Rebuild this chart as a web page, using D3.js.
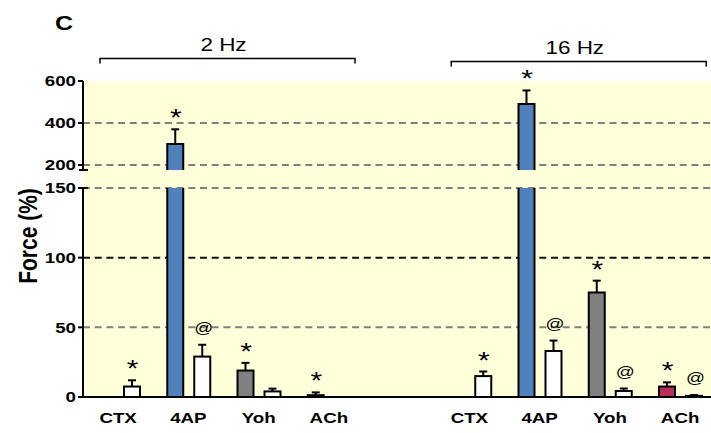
<!DOCTYPE html>
<html><head><meta charset="utf-8">
<script src="https://cdn.jsdelivr.net/npm/d3@7"></script>
<style>body{margin:0;background:#fff}svg{display:block;font-family:Arial,"Liberation Sans",sans-serif}</style>
</head><body><svg id="c" width="711" height="433"></svg>
<script>
const categories = ["CTX", "4AP", "Yoh", "ACh"];
const frequencies = ["2 Hz", "16 Hz"];
const treated2 = [0, 300, 19, 1.3];
const treatedErr2 = [0, 70, 5.5, 2];
const washout2 = [7.5, 29, 4, 0];
const washoutErr2 = [4.5, 8.5, 2, 0];
const treated16 = [0, 490, 75, 7.5];
const treatedErr16 = [0, 65, 8.5, 3];
const washout16 = [15, 33, 4.3, 0.8];
const washoutErr16 = [3.3, 7.5, 1.8, 0.6];
const treatedMark2 = ["", "*", "*", "*"];
const washoutMark2 = ["*", "@", "", ""];
const treatedMark16 = ["", "*", "*", "*"];
const washoutMark16 = ["*", "@", "@", "@"];
const lowerTicks = [0, 50, 100, 150];
const upperTicks = [200, 400, 600];
const categoryColors = ["#FFFFFF", "#4F81BD", "#808080", "#B8305A"];

const SX = 1.25;
const svg = d3.select("#c");
const x0 = 83, xEnd = 711;
const slots = [];
frequencies.forEach((f, i) => {
  if (i > 0) slots.push("gap" + i);
  categories.forEach(c => slots.push(f + "|" + c));
});
const x = d3.scaleBand().domain(slots).range([x0, x0 + slots.length * 70.25]).padding(0);
const inner = d3.scaleBand().domain(["treated", "washout"]).range([14, 57]).paddingInner(11 / 27).paddingOuter(0);
const yLow = d3.scaleLinear().domain([0, 150]).range([397, 188]);
const yUp = d3.scaleLinear().domain([200, 600]).range([165, 81]);
const upBottom = 170;

function txt(g, x, y, s, opts) {
  const t = g.append("text").attr("transform", `translate(${x},${y}) scale(${SX},1)` + (opts.rot ? " rotate(-90)" : ""))
    .text(s).attr("font-size", opts.size).attr("font-weight", opts.bold ? "bold" : "normal")
    .attr("text-anchor", opts.anchor || "middle").attr("fill", "#000");
  if (opts.dy) t.attr("dy", opts.dy);
  return t;
}

// background
svg.append("rect").attr("x", x0).attr("y", yUp(600)).attr("width", xEnd - x0).attr("height", yLow(0) - yUp(600)).attr("fill", "#FFFFDA");

// gridlines
const grid = svg.append("g");
upperTicks.filter(v => v < 600).forEach(v => {
  grid.append("line").attr("x1", x0).attr("x2", xEnd).attr("y1", yUp(v)).attr("y2", yUp(v))
    .attr("stroke", "#808080").attr("stroke-width", 2).attr("stroke-dasharray", "7,4.7");
});
lowerTicks.filter(v => v > 0).forEach(v => {
  grid.append("line").attr("x1", x0).attr("x2", xEnd).attr("y1", yLow(v)).attr("y2", yLow(v))
    .attr("stroke", v === 100 ? "#111" : "#808080").attr("stroke-width", 2).attr("stroke-dasharray", "7,4.7");
});

// bars
const bars = svg.append("g");
const groups = [
  {f: frequencies[0], t: treated2, te: treatedErr2, w: washout2, we: washoutErr2, tm: treatedMark2, wm: washoutMark2},
  {f: frequencies[1], t: treated16, te: treatedErr16, w: washout16, we: washoutErr16, tm: treatedMark16, wm: washoutMark16}
];
const bw = inner.bandwidth();
function drawBar(left, v, err, fill, mark) {
  const right = left + bw, cx = left + bw / 2;
  let topY;
  if (v <= 150) {
    topY = yLow(v);
    bars.append("rect").attr("x", left).attr("y", topY).attr("width", bw).attr("height", yLow(0) - topY)
      .attr("fill", fill).attr("stroke", "#000").attr("stroke-width", 2);
  } else {
    bars.append("rect").attr("x", left).attr("y", yLow(150)).attr("width", bw).attr("height", yLow(0) - yLow(150)).attr("fill", fill);
    bars.append("path").attr("d", `M${left},${yLow(150)}V${yLow(0)}H${right}V${yLow(150)}`).attr("fill", "none").attr("stroke", "#000").attr("stroke-width", 2);
    topY = yUp(v);
    bars.append("rect").attr("x", left).attr("y", topY).attr("width", bw).attr("height", upBottom - topY).attr("fill", fill);
    bars.append("path").attr("d", `M${left},${upBottom}V${topY}H${right}V${upBottom}`).attr("fill", "none").attr("stroke", "#000").attr("stroke-width", 2);
  }
  let errY = topY;
  if (err > 0) {
    errY = v <= 150 ? yLow(v + err) : yUp(v + err);
    bars.append("line").attr("x1", cx).attr("x2", cx).attr("y1", topY).attr("y2", errY).attr("stroke", "#000").attr("stroke-width", 2);
    bars.append("line").attr("x1", cx - 4).attr("x2", cx + 4).attr("y1", errY).attr("y2", errY).attr("stroke", "#000").attr("stroke-width", 2);
  }
  if (mark === "*") txt(bars, cx + 0.5, errY - 3, "*", {size: 24});
  else if (mark === "@") txt(bars, cx + 1.5, errY - 12, "@", {size: 15});
}
groups.forEach(g => {
  categories.forEach((c, i) => {
    const base = x(g.f + "|" + c);
    drawBar(base + inner("treated"), g.t[i], g.te[i], categoryColors[i], g.tm[i]);
    drawBar(base + inner("washout"), g.w[i], g.we[i], "#FFFFFF", g.wm[i]);
  });
});

// axes
const ax = svg.append("g").attr("stroke", "#000").attr("stroke-width", 2);
ax.append("line").attr("x1", x0).attr("x2", xEnd).attr("y1", yLow(0)).attr("y2", yLow(0));
ax.append("line").attr("x1", x0).attr("x2", x0).attr("y1", yLow(0)).attr("y2", yLow(150));
ax.append("line").attr("x1", x0).attr("x2", x0).attr("y1", upBottom).attr("y2", yUp(600));
ax.append("line").attr("x1", x0 - 4).attr("x2", x0 + 5).attr("y1", upBottom).attr("y2", upBottom);
ax.append("line").attr("x1", x0 - 4).attr("x2", x0 + 5).attr("y1", yLow(150)).attr("y2", yLow(150));
lowerTicks.forEach(v => ax.append("line").attr("x1", x0 - 5).attr("x2", x0).attr("y1", yLow(v)).attr("y2", yLow(v)));
upperTicks.forEach(v => ax.append("line").attr("x1", x0 - 5).attr("x2", x0).attr("y1", yUp(v)).attr("y2", yUp(v)));

const lab = svg.append("g");
lowerTicks.forEach(v => txt(lab, 76, yLow(v), String(v), {size: 15, bold: true, anchor: "end", dy: "0.36em"}));
upperTicks.forEach(v => txt(lab, 76, yUp(v), String(v), {size: 15, bold: true, anchor: "end", dy: "0.36em"}));

groups.forEach(g => categories.forEach(c => {
  txt(lab, x(g.f + "|" + c) + x.bandwidth() / 2, 423, c, {size: 15, bold: true});
}));

txt(lab, 36.5, 236, "Force (%)", {size: 21, bold: true, rot: true});
txt(lab, 55, 30, "C", {size: 20, bold: true, anchor: "start"});

// frequency brackets
const brY = [58.5, 61.5];
frequencies.forEach((f, i) => {
  const a = x(f + "|" + categories[0]) + 17;
  const b = x(f + "|" + categories[categories.length - 1]) + x.bandwidth() - 9;
  svg.append("path").attr("d", `M${a},${brY[i] + 5}V${brY[i]}H${b}V${brY[i] + 5}`)
    .attr("fill", "none").attr("stroke", "#000").attr("stroke-width", 1.5);
  txt(lab, (a + b) / 2 - 4, brY[i] - 8, f, {size: 18});
});
</script></body></html>
